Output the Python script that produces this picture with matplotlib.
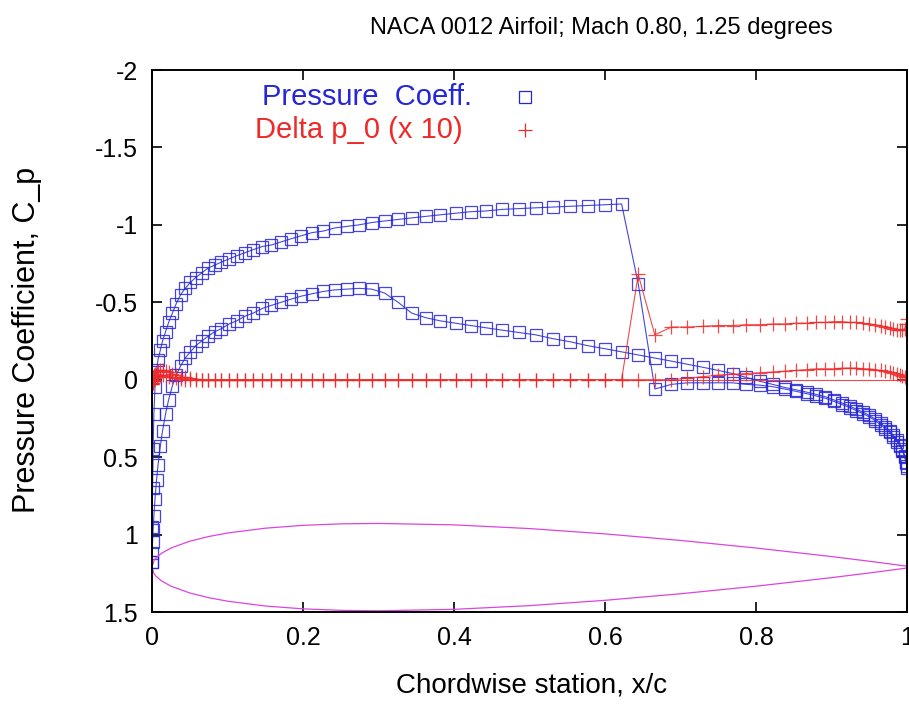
import matplotlib
matplotlib.use("Agg")
import matplotlib.pyplot as plt
import numpy as np

plt.rcParams['font.family'] = ['Liberation Sans', 'DejaVu Sans']
plt.rcParams['axes.unicode_minus'] = False

# surface stations (x/c), shared by both surfaces
x_c = [0.0, 0.0003, 0.0008, 0.0015, 0.0025, 0.004, 0.006, 0.008, 0.011, 0.014,
       0.018, 0.022, 0.027, 0.032, 0.038, 0.044, 0.051, 0.058, 0.066, 0.074,
       0.083, 0.092, 0.102, 0.112, 0.123, 0.134, 0.146, 0.158, 0.171, 0.184,
       0.198, 0.212, 0.227, 0.242, 0.258, 0.274, 0.291, 0.308, 0.326, 0.344,
       0.363, 0.382, 0.402, 0.422, 0.443, 0.464, 0.486, 0.508, 0.531, 0.554,
       0.577, 0.600, 0.622, 0.644, 0.666, 0.688, 0.709, 0.730, 0.750, 0.769,
       0.787, 0.805, 0.822, 0.838, 0.853, 0.867, 0.880, 0.892, 0.903, 0.914,
       0.924, 0.933, 0.942, 0.950, 0.958, 0.965, 0.971, 0.977, 0.982, 0.987,
       0.991, 0.994, 0.997, 0.999, 1.0]

cp_upper = [1.18, 0.95, 0.70, 0.45, 0.22, 0.05, -0.06, -0.13, -0.19, -0.25,
            -0.31, -0.37, -0.43, -0.49, -0.55, -0.59, -0.63, -0.66, -0.69, -0.72,
            -0.74, -0.76, -0.78, -0.80, -0.82, -0.84, -0.86, -0.87, -0.89, -0.91,
            -0.93, -0.95, -0.96, -0.98, -0.99, -1.00, -1.015, -1.025, -1.035, -1.045,
            -1.055, -1.065, -1.075, -1.085, -1.09, -1.10, -1.105, -1.11, -1.115, -1.12,
            -1.125, -1.13, -1.135, -0.62, 0.06, 0.03, 0.02, 0.02, 0.02, 0.02,
            0.03, 0.035, 0.045, 0.06, 0.075, 0.09, 0.105, 0.12, 0.14, 0.16,
            0.18, 0.20, 0.22, 0.24, 0.265, 0.29, 0.315, 0.34, 0.37, 0.40,
            0.43, 0.46, 0.50, 0.54, 0.57]

cp_lower = [1.18, 1.12, 1.05, 0.97, 0.88, 0.77, 0.65, 0.55, 0.43, 0.33,
            0.22, 0.13, 0.04, -0.03, -0.09, -0.14, -0.18, -0.22, -0.25, -0.28,
            -0.31, -0.33, -0.36, -0.38, -0.41, -0.43, -0.46, -0.48, -0.50, -0.52,
            -0.54, -0.555, -0.57, -0.58, -0.585, -0.59, -0.585, -0.56, -0.50, -0.43,
            -0.40, -0.38, -0.365, -0.35, -0.335, -0.32, -0.305, -0.29, -0.265, -0.245,
            -0.22, -0.20, -0.18, -0.16, -0.14, -0.12, -0.10, -0.08, -0.06, -0.04,
            -0.015, 0.01, 0.03, 0.05, 0.065, 0.08, 0.095, 0.11, 0.13, 0.15,
            0.17, 0.19, 0.21, 0.23, 0.255, 0.28, 0.305, 0.33, 0.36, 0.39,
            0.42, 0.45, 0.49, 0.53, 0.56]

# total pressure loss, already multiplied by 10
dp0_upper = [0.03, 0.02, 0.0, -0.02, -0.03, -0.04, -0.05, -0.055, -0.06, -0.06,
             -0.055, -0.05, -0.04, -0.03, -0.02, -0.015, -0.01, -0.005, 0.0, 0.0,
             0.0, 0.0, 0.0, 0.0, 0.0, 0.0, 0.0, 0.0, 0.0, 0.0,
             0.0, 0.0, 0.0, 0.0, 0.0, 0.0, 0.0, 0.0, 0.0, 0.0,
             0.0, 0.0, 0.0, 0.0, 0.0, 0.0, 0.0, 0.0, 0.0, 0.0,
             0.0, 0.0, 0.0, -0.68, -0.29, -0.34, -0.34, -0.345, -0.35, -0.35,
             -0.355, -0.355, -0.36, -0.36, -0.365, -0.365, -0.37, -0.37, -0.375, -0.375,
             -0.37, -0.37, -0.365, -0.36, -0.355, -0.35, -0.34, -0.335, -0.33, -0.32,
             -0.32, -0.32, -0.33, -0.36, -0.39]

dp0_lower = [0.03, 0.03, 0.02, 0.01, 0.0, -0.01, -0.02, -0.03, -0.03, -0.03,
             -0.025, -0.02, -0.015, -0.01, -0.005, 0.0, 0.0, 0.0, 0.0, 0.0,
             0.0, 0.0, 0.0, 0.0, 0.0, 0.0, 0.0, 0.0, 0.0, 0.0,
             0.0, 0.0, 0.0, 0.0, 0.0, 0.0, 0.0, 0.0, 0.0, 0.0,
             0.0, 0.0, 0.0, 0.0, 0.0, 0.0, 0.0, 0.0, 0.0, 0.0,
             0.0, 0.0, 0.0, 0.0, 0.0, 0.0, -0.01, -0.02, -0.03, -0.035,
             -0.04, -0.045, -0.05, -0.055, -0.06, -0.065, -0.07, -0.07, -0.07, -0.075,
             -0.075, -0.075, -0.07, -0.07, -0.065, -0.06, -0.055, -0.05, -0.045, -0.04,
             -0.03, -0.025, -0.015, -0.005, 0.0]

# line along the cut behind the shock
cut_x = [0.622, 1.0]
cut_dp0 = [0.0, 0.0]

# NACA 0012 half-thickness ordinates
foil_x = [0.0, 0.0025, 0.005, 0.0125, 0.025, 0.05, 0.075, 0.10, 0.15, 0.20,
          0.25, 0.30, 0.40, 0.50, 0.60, 0.70, 0.80, 0.90, 0.95, 1.0]
foil_t = [0.0, 0.00872, 0.01221, 0.01894, 0.02615, 0.03555, 0.04200, 0.04683,
          0.05345, 0.05737, 0.05941, 0.06002, 0.05803, 0.05294, 0.04563,
          0.03664, 0.02623, 0.01448, 0.00807, 0.00126]
foil_y0 = 1.21
foil_scale = 4.7

blue = '#2626d9'
red = '#ee2a2a'
pink = '#dd44dd'

fig = plt.figure(figsize=(9.09, 7.05), dpi=100)
ax = fig.add_axes([0.1672, 0.1319, 0.8306, 0.7688])

for cp in (cp_lower, cp_upper):
    ax.plot(x_c, cp, color=blue, lw=0.8, marker='s', ms=8.5,
            mfc='none', mec=blue, mew=0.9, alpha=0.85)

ax.plot(cut_x, cut_dp0, color=red, lw=0.8, alpha=0.85)
for dp in (dp0_lower, dp0_upper):
    ax.plot(x_c, dp, color=red, lw=0.8, marker='+', ms=10, mew=0.9, alpha=0.85)

fx = np.array(foil_x)
ft = np.array(foil_t) * foil_scale
ax.plot(np.concatenate([fx, fx[::-1]]),
        np.concatenate([foil_y0 - ft, (foil_y0 + ft)[::-1]]),
        color=pink, lw=0.9)

ax.set_xlim(0, 1)
ax.set_ylim(1.5, -2)
ax.set_xticks([0, 0.2, 0.4, 0.6, 0.8, 1])
ax.set_xticklabels(['0', '0.2', '0.4', '0.6', '0.8', '1'])
ax.set_yticks([-2, -1.5, -1, -0.5, 0, 0.5, 1, 1.5])
ax.set_yticklabels(['-2', '-1.5', '-1', '-0.5', '0', '0.5', '1', '1.5'])
ax.tick_params(direction='in', length=7, width=1.2, top=True, right=True,
               labelsize=18, pad=10)
for s in ax.spines.values():
    s.set_linewidth(1.4)

fig.text(0.662, 0.960, 'NACA 0012 Airfoil; Mach 0.80, 1.25 degrees',
         fontsize=17, ha='center', va='center')
ax.set_xlabel('Chordwise station, x/c', fontsize=20, va='top')
ax.xaxis.set_label_coords(0.503, -0.112)
ax.set_ylabel('Pressure Coefficient, C_p', fontsize=22)
ax.yaxis.set_label_coords(-0.146, 0.502)

# key: right-aligned text followed by the marker sample
ax.text(0.424, 0.950, 'Pressure  Coeff.', color=blue, fontsize=21,
        ha='right', va='center', transform=ax.transAxes)
ax.text(0.411, 0.889, 'Delta p_0 (x 10)', color=red, fontsize=21,
        ha='right', va='center', transform=ax.transAxes)
ax.plot([0.494], [0.950], transform=ax.transAxes, marker='s', ms=8.5,
        mfc='none', mec=blue, mew=0.9, ls='none')
ax.plot([0.494], [0.889], transform=ax.transAxes, marker='+', ms=10,
        color=red, mew=0.9, ls='none')

fig.savefig('out.png', dpi=100)
